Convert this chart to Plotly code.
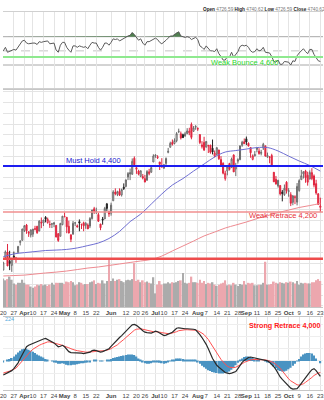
import plotly.graph_objects as go

# ---------------- data ----------------
tick_pos = [0, 5, 10, 14, 19, 24, 29, 34, 39, 44, 51, 58, 63, 67, 72, 76, 81, 86,
            92, 96, 101, 106, 111, 115, 120, 125, 130, 135, 140, 145, 150]
tick_lbl = ["20", "27", "<b>Apr</b>", "10", "17", "24", "<b>May</b>", "8", "15", "22",
            "<b>Jun</b>", "12", "20", "26", "<b>Jul</b>", "10", "17", "24",
            "<b>Aug</b>", "7", "14", "21", "28", "<b>Sep</b>", "11", "18", "25",
            "<b>Oct</b>", "9", "16", "23"]

prev_close_start = 3916.6

open_ = [3917.5, 3975.9, 4002.0, 3959.2, 3939.2, 3982.9, 3974.1, 3999.5, 4046.7, 4056.2,
         4102.2, 4128.0, 4094.5, 4081.2, 4085.2, 4110.3, 4121.7, 4100.0, 4140.1, 4137.2,
         4164.3, 4139.3, 4130.5, 4132.1, 4132.1, 4126.4, 4087.8, 4075.3, 4129.6, 4166.8,
         4164.1, 4122.3, 4082.6, 4084.7, 4136.9, 4124.3, 4143.7, 4132.2, 4138.5, 4126.7,
         4127.9, 4122.9, 4157.7, 4204.2, 4190.8, 4176.8, 4132.9, 4155.7, 4156.2, 4226.7,
         4190.7, 4183.0, 4241.0, 4282.0, 4271.3, 4285.5, 4268.7, 4304.9, 4308.3, 4352.6,
         4366.3, 4365.3, 4440.0, 4396.1, 4380.0, 4355.4, 4354.2, 4344.8, 4337.4, 4367.5,
         4374.9, 4422.4, 4450.5, 4442.0, 4422.6, 4404.5, 4394.2, 4415.6, 4467.7, 4491.5,
         4514.6, 4508.9, 4521.8, 4563.9, 4554.4, 4550.2, 4543.4, 4555.2, 4558.9, 4598.3,
         4565.8, 4584.8, 4578.8, 4550.9, 4494.3, 4513.9, 4491.6, 4498.0, 4501.6, 4487.2,
         4450.7, 4458.1, 4478.9, 4433.8, 4416.3, 4344.9, 4380.3, 4415.3, 4396.4, 4455.2,
         4389.4, 4426.0, 4432.8, 4500.3, 4517.0, 4530.6, 4510.1, 4490.4, 4434.6, 4451.3,
         4481.0, 4473.3, 4462.6, 4487.8, 4498.0, 4445.1, 4445.4, 4452.8, 4374.4, 4341.7,
         4310.6, 4312.9, 4282.6, 4269.7, 4328.2, 4284.5, 4269.8, 4233.8, 4259.3, 4234.8,
         4289.0, 4339.8, 4366.6, 4380.9, 4360.5, 4342.4, 4345.2, 4357.4, 4321.4, 4273.9,
         4210.4]
high = [3956.6, 4009.1, 4039.5, 4007.7, 3972.7, 4003.8, 3979.2, 4030.6, 4057.9, 4110.8,
        4127.7, 4133.1, 4099.7, 4107.3, 4109.5, 4124.3, 4124.4, 4150.3, 4163.2, 4151.7,
        4169.5, 4162.6, 4148.6, 4138.0, 4142.4, 4126.4, 4089.7, 4138.2, 4170.1, 4186.9,
        4164.1, 4148.3, 4082.6, 4147.0, 4142.3, 4130.4, 4154.3, 4132.8, 4143.7, 4141.3,
        4135.5, 4164.7, 4199.0, 4212.9, 4209.2, 4185.7, 4132.9, 4165.7, 4212.9, 4231.1,
        4195.4, 4232.4, 4290.7, 4299.3, 4288.3, 4299.2, 4298.0, 4322.6, 4340.1, 4375.4,
        4391.8, 4439.2, 4448.5, 4400.2, 4386.2, 4382.3, 4366.6, 4362.1, 4384.4, 4390.4,
        4398.4, 4458.5, 4456.5, 4454.1, 4422.6, 4440.4, 4412.6, 4443.6, 4488.3, 4517.4,
        4527.8, 4532.9, 4562.3, 4578.4, 4564.7, 4555.0, 4563.4, 4580.6, 4582.5, 4607.1,
        4590.2, 4594.2, 4584.6, 4550.9, 4519.8, 4540.3, 4519.8, 4503.3, 4502.4, 4527.4,
        4476.2, 4490.3, 4478.9, 4449.9, 4421.2, 4381.8, 4407.6, 4418.6, 4443.2, 4458.3,
        4418.5, 4439.6, 4500.1, 4521.7, 4532.3, 4541.3, 4514.3, 4490.4, 4457.8, 4473.5,
        4490.8, 4487.1, 4479.4, 4512.0, 4498.0, 4466.4, 4449.9, 4461.0, 4375.7, 4357.4,
        4338.5, 4313.0, 4292.1, 4317.3, 4333.1, 4300.6, 4281.2, 4268.5, 4267.1, 4324.1,
        4341.7, 4385.5, 4378.6, 4385.9, 4377.1, 4383.3, 4393.6, 4364.2, 4339.5, 4276.6,
        4255.8]
low = [3916.9, 3971.2, 3936.2, 3917.3, 3909.2, 3970.5, 3951.5, 3999.5, 4032.6, 4056.2,
       4095.3, 4086.9, 4072.6, 4069.8, 4072.6, 4102.6, 4086.9, 4099.4, 4113.2, 4123.2,
       4140.4, 4134.5, 4114.6, 4113.9, 4117.8, 4071.4, 4049.4, 4075.3, 4127.2, 4164.1,
       4089.7, 4088.9, 4048.3, 4084.7, 4123.8, 4116.7, 4098.9, 4109.3, 4099.1, 4110.3,
       4109.9, 4113.6, 4153.7, 4180.2, 4179.7, 4142.3, 4103.9, 4129.7, 4156.2, 4192.2,
       4166.2, 4171.6, 4241.0, 4266.8, 4263.1, 4263.9, 4261.1, 4291.7, 4304.4, 4337.9,
       4337.9, 4362.6, 4407.4, 4367.2, 4360.1, 4351.8, 4341.3, 4328.1, 4335.0, 4360.2,
       4371.9, 4422.4, 4442.3, 4436.6, 4385.1, 4397.4, 4389.9, 4408.5, 4463.2, 4489.4,
       4499.6, 4504.9, 4514.6, 4557.5, 4527.6, 4535.8, 4541.3, 4552.4, 4547.6, 4528.6,
       4564.0, 4573.1, 4567.5, 4505.8, 4485.5, 4474.6, 4491.2, 4464.4, 4461.3, 4457.9,
       4443.9, 4453.4, 4432.2, 4403.6, 4364.8, 4335.3, 4360.3, 4382.8, 4396.4, 4375.6,
       4356.3, 4415.0, 4431.7, 4493.6, 4507.4, 4501.4, 4496.0, 4442.4, 4430.5, 4448.4,
       4467.9, 4456.8, 4453.4, 4478.7, 4447.2, 4442.1, 4416.6, 4401.4, 4329.2, 4316.5,
       4302.7, 4266.0, 4238.6, 4264.4, 4274.9, 4260.2, 4216.5, 4220.5, 4225.9, 4219.6,
       4283.8, 4339.6, 4345.3, 4325.4, 4312.0, 4342.4, 4337.5, 4303.8, 4269.7, 4223.0,
       4189.2]
close = [3951.6, 4002.9, 3937.0, 3948.7, 3971.0, 3977.5, 3971.3, 4027.8, 4050.8, 4109.3,
         4124.5, 4100.6, 4090.4, 4105.0, 4109.1, 4108.9, 4092.0, 4146.2, 4137.6, 4151.3,
         4154.9, 4154.5, 4129.8, 4133.5, 4137.0, 4071.6, 4056.0, 4135.4, 4169.5, 4167.9,
         4119.6, 4090.8, 4061.2, 4136.3, 4138.1, 4119.2, 4137.6, 4130.6, 4124.1, 4136.3,
         4109.9, 4158.8, 4198.1, 4192.0, 4192.6, 4145.6, 4115.2, 4151.3, 4205.5, 4205.5,
         4179.8, 4221.0, 4282.4, 4273.8, 4283.9, 4267.5, 4293.9, 4298.9, 4338.9, 4369.0,
         4372.6, 4425.8, 4409.6, 4388.7, 4365.7, 4381.9, 4348.3, 4328.8, 4378.4, 4376.9,
         4396.4, 4450.4, 4455.6, 4446.8, 4411.6, 4399.0, 4409.5, 4439.3, 4472.2, 4510.0,
         4505.4, 4522.8, 4555.0, 4565.7, 4534.9, 4536.3, 4554.6, 4567.5, 4566.8, 4537.4,
         4582.2, 4589.0, 4576.7, 4513.4, 4501.9, 4478.0, 4518.4, 4499.4, 4467.7, 4468.8,
         4464.1, 4489.7, 4437.9, 4404.3, 4370.4, 4369.7, 4399.8, 4387.6, 4436.0, 4376.3,
         4405.7, 4433.3, 4497.6, 4514.9, 4507.7, 4515.8, 4496.8, 4465.5, 4451.1, 4457.5,
         4487.5, 4461.9, 4467.4, 4505.1, 4450.3, 4453.5, 4444.0, 4402.2, 4330.0, 4320.1,
         4337.4, 4273.5, 4274.5, 4299.7, 4288.1, 4288.4, 4229.5, 4263.8, 4258.2, 4308.5,
         4335.7, 4358.2, 4377.0, 4349.6, 4327.8, 4373.6, 4373.2, 4314.6, 4278.0, 4224.2,
         4217.0]
volume = [4.6, 4.3, 4.5, 4.9, 4.4, 3.8, 3.6, 3.9, 3.9, 4.4,
          3.9, 3.6, 3.6, 3.3, 3.1, 3.3, 3.6, 3.5, 3.7, 3.5,
          3.6, 3.4, 3.6, 3.9, 3.6, 3.9, 3.9, 3.9, 3.9, 3.7,
          4.1, 4.0, 4.2, 4.0, 3.5, 3.6, 4.0, 3.9, 3.6, 3.7,
          3.7, 4.0, 4.1, 4.3, 3.7, 3.9, 3.8, 4.3, 3.8, 4.2,
          7.6, 4.2, 4.6, 4.2, 4.4, 4.5, 4.2, 4.0, 4.3, 4.4,
          4.3, 4.5, 7.1, 4.2, 4.4, 4.0, 4.3, 4.0, 4.1, 3.9,
          3.8, 4.8, 2.2, 3.6, 4.2, 3.6, 3.8, 3.8, 4.0, 3.8,
          4.0, 3.9, 4.0, 4.2, 4.3, 5.5, 3.9, 3.8, 3.9, 4.9,
          4.0, 4.0, 3.9, 4.4, 3.9, 4.2, 3.7, 3.9, 3.8, 4.0,
          3.6, 3.4, 3.6, 3.8, 3.9, 4.3, 3.5, 3.6, 3.5, 3.9,
          3.6, 3.4, 3.7, 3.6, 4.2, 3.6, 3.9, 3.8, 3.9, 3.5,
          3.5, 3.6, 3.6, 3.9, 7.3, 3.6, 3.6, 3.7, 4.1, 3.9,
          3.8, 4.0, 3.9, 3.8, 4.0, 3.9, 4.1, 4.0, 3.8, 4.2,
          3.6, 3.9, 3.8, 3.9, 3.8, 3.8, 4.0, 4.0, 4.3, 4.5,
          4.2]

ma_pos = [0, 5, 10, 15, 20, 25, 30, 35, 40, 45, 50, 55, 60, 65, 70, 75,
          80, 85, 90, 95, 100, 105, 110, 115, 120, 125, 130, 135, 140, 145, 150]
ma50 = [3980, 3993, 3999, 4004, 4009, 4011, 4014, 4021, 4032, 4044, 4065, 4098,
        4144, 4179, 4226, 4273, 4315, 4345, 4380, 4413, 4446, 4469, 4476, 4483,
        4490, 4490, 4474, 4450, 4427, 4406, 4380]
ma200 = [3890, 3892, 3894, 3899, 3904, 3908, 3913, 3920, 3927, 3932, 3939, 3946,
         3953, 3960, 3967, 3983, 4007, 4030, 4053, 4077, 4095, 4114, 4128, 4142,
         4158, 4172, 4186, 4198, 4210, 4219, 4229]

rsi = [50, 55, 48, 49, 51, 52, 51, 56, 59, 64,
       65, 61, 60, 61, 61, 61, 59, 63, 62, 63,
       64, 64, 60, 60, 61, 51, 48, 58, 62, 62,
       55, 51, 48, 57, 57, 55, 57, 56, 55, 56,
       53, 58, 62, 61, 61, 55, 51, 55, 61, 61,
       58, 62, 67, 66, 67, 64, 66, 67, 69, 71,
       72, 76, 73, 68, 65, 67, 61, 58, 63, 63,
       65, 67, 68, 66, 62, 60, 62, 65, 68, 71,
       71, 73, 76, 77, 71, 70, 69, 70, 69, 66,
       68, 69, 66, 57, 55, 52, 57, 54, 50, 50,
       49, 53, 46, 42, 37, 37, 42, 41, 48, 41,
       45, 49, 56, 58, 57, 58, 55, 50, 48, 49,
       53, 50, 51, 55, 48, 48, 47, 42, 35, 34,
       37, 31, 31, 35, 34, 34, 30, 36, 35, 43,
       47, 50, 53, 49, 46, 52, 52, 45, 41, 36,
       35]

macd = [-29, -27, -25, -23, -20, -16, -11, -4, 5, 14,
        23, 29, 32, 34, 36, 38, 40, 42, 44, 45,
        46, 44, 41, 39, 37, 33, 29, 30, 32, 29,
        24, 19, 17, 17, 16, 16, 16, 16, 15, 16,
        16, 18, 21, 22, 21, 19, 18, 19, 21, 23,
        25, 30, 35, 39, 44, 48, 52, 57, 62, 66,
        70, 74, 75, 73, 70, 66, 62, 59, 58, 57,
        57, 59, 61, 60, 57, 54, 52, 53, 55, 57,
        59, 63, 67, 68, 67, 66, 66, 66, 66, 66,
        65, 64, 60, 54, 48, 42, 34, 25, 13, 5,
        -2, -9, -13, -17, -21, -24, -25, -26, -25, -24,
        -22, -16, -9, -3, 1, 4, 7, 8, 7, 5,
        4, 3, 2, 2, 1, 0, -3, -7, -12, -18,
        -27, -33, -38, -43, -48, -52, -56, -58, -58, -57,
        -52, -46, -39, -33, -28, -23, -18, -16, -20, -26,
        -32]
signal = [-25, -24, -22, -21, -19, -17, -15, -10, -5, 0,
          6, 12, 16, 20, 24, 27, 30, 32, 34, 36,
          38, 39, 39, 38, 37, 36, 35, 33, 32, 30,
          29, 27, 25, 23, 22, 21, 20, 19, 19, 18,
          18, 18, 19, 19, 20, 20, 20, 21, 21, 22,
          23, 25, 28, 30, 33, 37, 40, 44, 48, 52,
          56, 60, 63, 65, 66, 66, 65, 64, 62, 61,
          60, 60, 60, 60, 59, 58, 57, 56, 56, 56,
          57, 58, 60, 62, 63, 64, 64, 64, 64, 64,
          64, 63, 62, 60, 57, 54, 50, 44, 37, 30,
          23, 15, 9, 3, -2, -7, -11, -13, -14, -14,
          -13, -11, -9, -6, -3, -1, 1, 2, 3, 3,
          3, 3, 3, 3, 2, 1, 0, -2, -4, -7,
          -11, -15, -21, -27, -32, -37, -41, -44, -47, -49,
          -50, -49, -47, -44, -41, -38, -34, -30, -27, -25,
          -24]
hist = [-3, 0, 2, 4, 6, 9, 13, 17, 21, 24,
        25, 25, 23, 21, 19, 16, 13, 11, 9, 7,
        4, 2, 0, -1, -2, -4, -6, -6, -5, -6,
        -8, -9, -9, -8, -8, -7, -6, -5, -5, -4,
        -3, -2, 0, 1, 1, 0, -1, -1, 0, 1,
        2, 4, 6, 7, 8, 9, 10, 11, 12, 13,
        13, 13, 12, 9, 5, 1, -3, -5, -6, -6,
        -5, -3, -2, -2, -4, -5, -6, -5, -3, -1,
        1, 3, 5, 5, 5, 4, 3, 2, 2, 2,
        1, 1, -2, -6, -10, -13, -16, -19, -21, -23,
        -24, -25, -26, -26, -26, -25, -24, -22, -18, -14,
        -9, -4, 1, 5, 8, 9, 9, 8, 6, 4,
        2, 1, 0, 0, -1, -2, -4, -7, -11, -15,
        -19, -21, -22, -22, -20, -17, -14, -10, -6, -1,
        4, 9, 13, 15, 16, 16, 15, 11, 5, 0,
        -5]

# ---------------- styling ----------------
FONT = "Liberation Sans, Arial, sans-serif"
GRAY_VOL = "#ababab"
PINK_VOL = "#eca7ae"
RED = "#e0263f"
GRID = "#e4e4e4"

n = len(close)
x = list(range(n))
prev = [prev_close_start] + close[:-1]
up = [i for i in x if close[i] >= prev[i]]
dn = [i for i in x if close[i] < prev[i]]


def pick(arr, idx):
    return [arr[i] for i in idx]


fig = go.Figure()

# volume (base axis of the price panel)
fig.add_trace(go.Bar(
    x=x, y=volume, xaxis="x", yaxis="y",
    marker=dict(color=[GRAY_VOL if close[i] >= prev[i] else PINK_VOL for i in x],
                line=dict(width=0)),
    hoverinfo="skip"))

# candles: up vs previous close (dark) and down (red)
fig.add_trace(go.Candlestick(
    x=up, open=pick(open_, up), high=pick(high, up), low=pick(low, up), close=pick(close, up),
    xaxis="x", yaxis="y2", whiskerwidth=0,
    increasing=dict(line=dict(color="#6a6a6a", width=1), fillcolor="#ffffff"),
    decreasing=dict(line=dict(color="#222222", width=1), fillcolor="#222222")))
fig.add_trace(go.Candlestick(
    x=dn, open=pick(open_, dn), high=pick(high, dn), low=pick(low, dn), close=pick(close, dn),
    xaxis="x", yaxis="y2", whiskerwidth=0,
    increasing=dict(line=dict(color=RED, width=1), fillcolor="#ffffff"),
    decreasing=dict(line=dict(color=RED, width=1), fillcolor=RED)))

# moving averages
fig.add_trace(go.Scatter(x=ma_pos, y=ma50, mode="lines", xaxis="x", yaxis="y2",
                         line=dict(color="#6f6fd2", width=1, shape="spline")))
fig.add_trace(go.Scatter(x=ma_pos, y=ma200, mode="lines", xaxis="x", yaxis="y2",
                         line=dict(color="#ee8a90", width=1, shape="spline")))

# RSI with overbought shading
fig.add_trace(go.Scatter(x=x, y=[70] * n, mode="lines", xaxis="x2", yaxis="y3",
                         line=dict(width=0, color="rgba(0,0,0,0)")))
fig.add_trace(go.Scatter(x=x, y=[max(v, 70) for v in rsi], mode="lines", xaxis="x2", yaxis="y3",
                         line=dict(width=0, color="rgba(0,0,0,0)"), fill="tonexty",
                         fillcolor="#4f7f4f"))
fig.add_trace(go.Scatter(x=x, y=rsi, mode="lines", xaxis="x2", yaxis="y3",
                         line=dict(color="#5a5a5a", width=1)))

# MACD
fig.add_trace(go.Bar(x=x, y=hist, xaxis="x3", yaxis="y4",
                     marker=dict(color="#4a93c2", line=dict(width=0))))
fig.add_trace(go.Scatter(x=x, y=signal, mode="lines", xaxis="x3", yaxis="y4",
                         line=dict(color="#ff5050", width=1)))
fig.add_trace(go.Scatter(x=x, y=macd, mode="lines", xaxis="x3", yaxis="y4",
                         line=dict(color="#2a2a2a", width=1.2)))

XR = [-0.14, 151.26]
tickfont = dict(size=6, color="#444444", family=FONT)


def xax(**kw):
    d = dict(range=XR, showgrid=True, gridcolor=GRID, gridwidth=1, tickmode="array",
             tickvals=tick_pos, ticktext=tick_lbl, zeroline=False, fixedrange=True,
             ticks="", showline=True, mirror=True, linecolor="#c6c6c6", linewidth=1,
             tickfont=tickfont, ticklabeloverflow="allow", tickangle=0)
    d.update(kw)
    return d


def px2paper(p):
    return 1 - p / 400.0


shapes = []
# RSI reference levels
for lvl, col, dash in [(70, "#a8a8a8", "solid"), (30, "#a8a8a8", "solid"), (50, "#c4c4c4", "dash")]:
    shapes.append(dict(type="line", xref="paper", yref="y3", x0=0, x1=1, y0=lvl, y1=lvl,
                       line=dict(color=col, width=1, dash=dash), layer="below"))
# hand-drawn level lines
shapes += [
    dict(type="line", xref="paper", yref="paper", x0=0, x1=1, y0=px2paper(57), y1=px2paper(57),
         line=dict(color="#8fe98f", width=2)),
    dict(type="line", xref="paper", yref="paper", x0=0, x1=1, y0=px2paper(166), y1=px2paper(166),
         line=dict(color="#1d1df0", width=2.2)),
    dict(type="line", xref="paper", yref="paper", x0=0, x1=1, y0=px2paper(212), y1=px2paper(212),
         line=dict(color="#f08f8f", width=1.5)),
    dict(type="line", xref="paper", yref="paper", x0=0, x1=1, y0=px2paper(258.7), y1=px2paper(258.7),
         line=dict(color="#ee4c4c", width=2.5)),
]

annotations = [
    dict(text="Weak Bounce 4,600", x=244.3 / 324, y=px2paper(62.3),
         font=dict(size=7.5, color="#2cd82c", family=FONT)),
    dict(text="Must Hold 4,400", x=91.3 / 324, y=px2paper(160),
         font=dict(size=7.5, color="#2020d0", family=FONT)),
    dict(text="Weak Retrace 4,200", x=283.3 / 324, y=px2paper(215.7),
         font=dict(size=7.5, color="#e8303a", family=FONT)),
    dict(text="<b>Strong Retrace 4,000</b>", x=285.3 / 324, y=px2paper(325),
         font=dict(size=7.2, color="#ff2020", family=FONT)),
    dict(text="<b>Open</b> <span style='color:#777'>4726.59</span> <b>High</b> "
              "<span style='color:#777'>4740.62</span> <b>Low</b> "
              "<span style='color:#777'>4726.59</span> <b>Close</b> "
              "<span style='color:#777'>4740.62</span>",
         x=200 / 324, y=px2paper(9.7), xanchor="left",
         font=dict(size=4.7, color="#222222", family=FONT)),
    dict(text="224", x=0, y=px2paper(319), xanchor="left",
         font=dict(size=5.5, color="#55aadd", family=FONT)),
]
for a in annotations:
    a.update(xref="paper", yref="paper", showarrow=False)
    a.setdefault("xanchor", "center")
    a.setdefault("yanchor", "middle")

fig.update_layout(
    width=324, height=400,
    margin=dict(l=0, r=0, t=0, b=0),
    paper_bgcolor="white", plot_bgcolor="white",
    showlegend=False, hovermode=False,
    bargap=0.2,
    font=dict(family=FONT),
    xaxis=xax(anchor="y", rangeslider=dict(visible=False)),
    xaxis2=xax(anchor="y3", showticklabels=False, linecolor="#d0d0d0"),
    xaxis3=xax(anchor="y4"),
    yaxis=dict(domain=[px2paper(307), px2paper(90)], range=[0, 35], showgrid=False,
               showticklabels=False, zeroline=False, fixedrange=True),
    yaxis2=dict(overlaying="y", anchor="x", range=[3745, 4758.9], showgrid=True,
                gridcolor=GRID, tick0=0, dtick=50, showticklabels=False,
                zeroline=False, fixedrange=True),
    yaxis3=dict(domain=[px2paper(88.3), px2paper(12)], range=[-2.9, 104.9], showgrid=False,
                showticklabels=False, zeroline=False, fixedrange=True),
    yaxis4=dict(domain=[px2paper(390), px2paper(316.5)], range=[-59.8, 91.2], showgrid=True,
                gridcolor="#eeeeee", tick0=0, dtick=25, showticklabels=False,
                zeroline=False, fixedrange=True),
    shapes=shapes,
    annotations=annotations,
)

fig.write_html("out.html", config={"displayModeBar": False})
